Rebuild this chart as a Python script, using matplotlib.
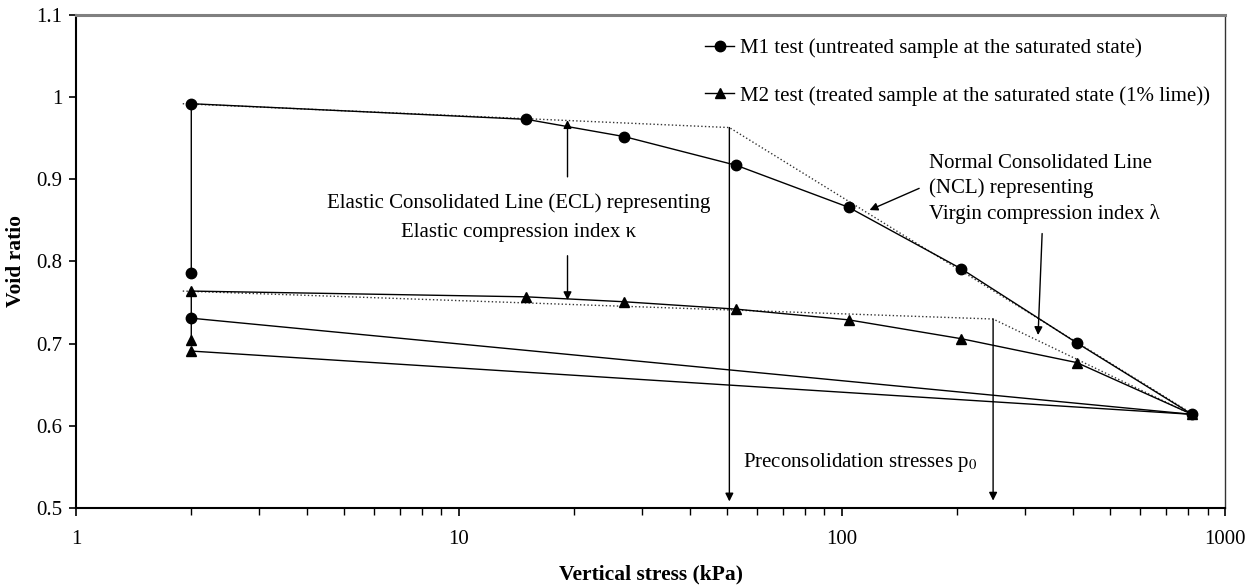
import numpy as np
import matplotlib.pyplot as plt

plt.rcParams['font.family'] = ['Liberation Serif', 'DejaVu Serif']
plt.rcParams['mathtext.fontset'] = 'stix'

# Oedometer test data: swelling at 2 kPa, loading, then unloading
stress_m1 = [2, 2, 15, 27, 53, 104, 205, 410, 820, 2]
void_m1 = [0.786, 0.992, 0.973, 0.952, 0.917, 0.866, 0.791, 0.701, 0.614, 0.731]

stress_m2 = [2, 2, 15, 27, 53, 104, 205, 410, 820, 2]
void_m2 = [0.705, 0.764, 0.757, 0.751, 0.742, 0.729, 0.706, 0.677, 0.614, 0.691]

# Construction lines (ECL + NCL) for each test
ecl_ncl_m1_x = [1.9, 50.8, 800]
ecl_ncl_m1_y = [0.992, 0.963, 0.618]
ecl_ncl_m2_x = [1.9, 248, 800]
ecl_ncl_m2_y = [0.764, 0.730, 0.616]

# Preconsolidation stresses
p0_m1 = 50.8
p0_m2 = 248

fig = plt.figure(figsize=(12.58, 5.85), dpi=100)
ax = fig.add_axes([0.0604, 0.1316, 0.9134, 0.8428])

ax.plot(ecl_ncl_m1_x, ecl_ncl_m1_y, color='#333333', ls=':', lw=1.0)
ax.plot(ecl_ncl_m2_x, ecl_ncl_m2_y, color='#333333', ls=':', lw=1.0)

ax.plot(stress_m1, void_m1, 'k-', marker='o', ms=7.5, lw=1.0,
        label='M1 test (untreated sample at the saturated state)')
ax.plot(stress_m2, void_m2, 'k-', marker='^', ms=7.5, lw=1.0,
        label='M2 test (treated sample at the saturated state (1% lime))')

ax.set_xscale('log')
ax.set_xlim(1, 1000)
ax.set_ylim(0.5, 1.1)
ax.set_yticks([0.5, 0.6, 0.7, 0.8, 0.9, 1.0, 1.1])
ax.set_yticklabels(['0.5', '0.6', '0.7', '0.8', '0.9', '1', '1.1'])
ax.set_xticks([1, 10, 100, 1000])
ax.set_xticklabels(['1', '10', '100', '1000'])
ax.tick_params(axis='both', which='both', direction='out', labelsize=15)
ax.tick_params(axis='y', length=5, width=1.2, pad=5)
ax.tick_params(axis='x', which='major', length=6, width=1.2, pad=10)
ax.tick_params(axis='x', which='minor', length=5, width=1.0)

for side in ['left', 'bottom']:
    ax.spines[side].set_linewidth(1.5)
ax.spines['top'].set_color('#808080')
ax.spines['top'].set_linewidth(2.2)
ax.spines['right'].set_color('#333333')
ax.spines['right'].set_linewidth(1.0)

ax.set_xlabel('Vertical stress (kPa)', fontsize=15.5, fontweight='bold', labelpad=11)
ax.set_ylabel('Void ratio', fontsize=15.5, fontweight='bold', labelpad=7)

arrow = dict(arrowstyle='-|>', color='k', lw=1.0, mutation_scale=12, shrinkA=0, shrinkB=0)

# Preconsolidation arrows
ax.annotate('', xy=(p0_m1, 0.508), xytext=(p0_m1, 0.963), arrowprops=arrow)
ax.annotate('', xy=(p0_m2, 0.509), xytext=(p0_m2, 0.730), arrowprops=arrow)
ax.text(55.3, 0.555, 'Preconsolidation stresses p$_0$', fontsize=15, va='center', ha='left')

# ECL annotation
ax.annotate('', xy=(19.2, 0.972), xytext=(19.2, 0.903), arrowprops=arrow)
ax.annotate('', xy=(19.2, 0.753), xytext=(19.2, 0.807), arrowprops=arrow)
ax.text(14.3, 0.853, 'Elastic Consolidated Line (ECL) representing\nElastic compression index κ',
        fontsize=15, ha='center', va='center', linespacing=1.72)

# NCL annotation
ax.annotate('', xy=(118, 0.8626), xytext=(159, 0.889), arrowprops=arrow)
ax.annotate('', xy=(325, 0.7105), xytext=(333, 0.834), arrowprops=arrow)
ax.text(168.4, 0.888, 'Normal Consolidated Line\n(NCL) representing\nVirgin compression index λ',
        fontsize=15, ha='left', va='center', linespacing=1.38)

ax.legend(loc='upper left', bbox_to_anchor=(0.5474, 0.953), frameon=False, fontsize=15,
          handlelength=1.4, handletextpad=0.3, labelspacing=1.35, borderpad=0, borderaxespad=0)

fig.savefig('out.png', dpi=100)
